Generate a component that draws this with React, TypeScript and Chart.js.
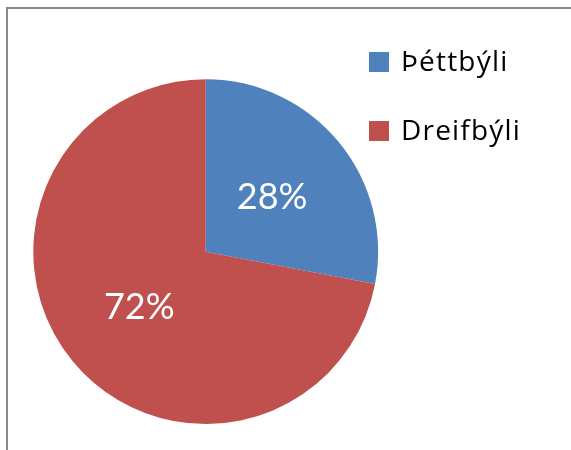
import React, { useEffect, useRef } from "react";
import { Chart, registerables } from "chart.js";

Chart.register(...registerables);

const categories: string[] = ["Þéttbýli", "Dreifbýli"];
const shares: number[] = [28, 72];
const sliceColors: string[] = ["#4F81BD", "#C0504D"];

const legendPlugin = {
  id: "sideLegend",
  afterDraw(chart: any) {
    const ctx = chart.ctx;
    const labels: string[] = chart.data.labels;
    const colors: string[] = chart.data.datasets[0].backgroundColor;
    ctx.save();
    ctx.font = "28px 'Open Sans'";
    (ctx as any).letterSpacing = "1.2px";
    ctx.textBaseline = "middle";
    ctx.textAlign = "left";
    labels.forEach((lab, i) => {
      const boxY = 52 + i * 69;
      ctx.fillStyle = colors[i];
      ctx.fillRect(369, boxY, 20, 20);
      ctx.fillStyle = "#000000";
      ctx.fillText(lab, 401, boxY + 11);
    });
    ctx.restore();
  },
};

const pctLabelPlugin = {
  id: "pctLabels",
  afterDatasetsDraw(chart: any) {
    const ctx = chart.ctx;
    const meta = chart.getDatasetMeta(0);
    const vals: number[] = chart.data.datasets[0].data;
    const total = vals.reduce((a, b) => a + b, 0);
    ctx.save();
    ctx.font = "36px Lato";
    ctx.fillStyle = "#FFFFFF";
    ctx.textAlign = "center";
    ctx.textBaseline = "middle";
    meta.data.forEach((arc: any, i: number) => {
      const p = arc.getCenterPoint();
      ctx.fillText(Math.round((vals[i] / total) * 100) + "%", p.x, p.y + 1);
    });
    ctx.restore();
  },
};

export default function App() {
  const ref = useRef<HTMLCanvasElement>(null);
  useEffect(() => {
    const chart = new Chart(ref.current!, {
      type: "pie",
      data: {
        labels: categories,
        datasets: [
          {
            data: shares,
            backgroundColor: sliceColors,
            borderWidth: 0,
          },
        ],
      },
      options: {
        animation: false,
        responsive: false,
        devicePixelRatio: 1,
        layout: { padding: { left: 33.3, right: 192.9, top: 79.3, bottom: 25.9 } },
        plugins: {
          legend: { display: false },
          tooltip: { enabled: false },
        },
      },
      plugins: [pctLabelPlugin, legendPlugin],
    });
    return () => chart.destroy();
  }, []);
  return (
    <div style={{ position: "absolute", left: 0, top: 0, width: 571, height: 450, background: "#fff", overflow: "hidden" }}>
      <div
        style={{
          position: "absolute",
          left: 6,
          top: 7,
          width: 600,
          height: 500,
          borderLeft: "2px solid #8A8A8A",
          borderTop: "2px solid #8A8A8A",
        }}
      />
      <canvas ref={ref} width={571} height={450} style={{ position: "absolute", left: 0, top: 0 }} />
    </div>
  );
}
